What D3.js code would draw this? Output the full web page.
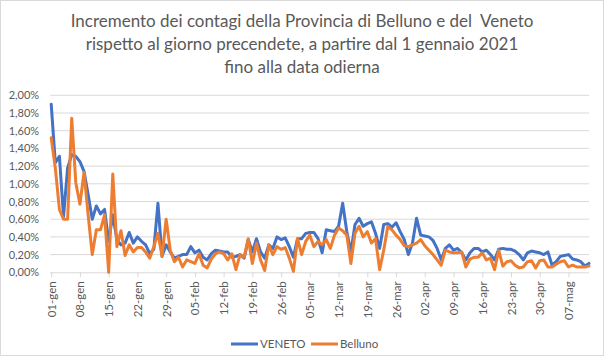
<!DOCTYPE html>
<html><head><meta charset="utf-8">
<script src="https://cdn.jsdelivr.net/npm/d3@7"></script>
<style>
html,body{margin:0;padding:0;background:#fff;}
svg{display:block;}
</style>
</head><body>
<svg id="chart" width="604" height="356"></svg>
<script>
// ---- DATA ----
const titleLines = [
  "Incremento dei contagi della Provincia di Belluno e del  Veneto",
  "rispetto al giorno precendete, a partire dal 1 gennaio 2021",
  "fino alla data odierna"
];
const seriesNames = ["VENETO", "Belluno"];
const startDate = new Date(2021, 0, 1);
const endDate = new Date(2021, 4, 12);
// daily increment, percent
const veneto = [
  1.90,1.24,1.31,0.63,1.18,1.33,1.31,1.25,1.14,0.88,
  0.60,0.75,0.66,0.71,0.35,0.65,0.37,0.31,0.33,0.45,
  0.33,0.40,0.35,0.31,0.21,0.26,0.78,0.18,0.31,0.23,
  0.16,0.18,0.20,0.20,0.29,0.22,0.25,0.17,0.14,0.21,
  0.25,0.24,0.23,0.23,0.17,0.18,0.20,0.16,0.37,0.23,
  0.38,0.23,0.16,0.31,0.27,0.40,0.37,0.39,0.29,0.17,
  0.38,0.38,0.44,0.45,0.45,0.38,0.22,0.48,0.47,0.46,
  0.52,0.78,0.46,0.23,0.54,0.61,0.52,0.55,0.57,0.44,
  0.27,0.54,0.55,0.51,0.56,0.46,0.37,0.20,0.33,0.61,
  0.42,0.41,0.40,0.36,0.27,0.14,0.27,0.31,0.25,0.27,
  0.22,0.14,0.22,0.27,0.27,0.23,0.25,0.20,0.14,0.26,
  0.27,0.26,0.26,0.24,0.20,0.14,0.22,0.24,0.23,0.22,
  0.20,0.23,0.08,0.12,0.18,0.19,0.20,0.15,0.14,0.12,
  0.07,0.10
];
const belluno = [
  1.52,1.18,0.71,0.60,0.60,1.74,1.01,0.77,1.13,0.65,
  0.20,0.48,0.48,0.65,0.00,1.11,0.29,0.47,0.19,0.31,
  0.23,0.28,0.28,0.23,0.16,0.29,0.44,0.18,0.60,0.25,
  0.12,0.17,0.06,0.14,0.12,0.10,0.21,0.08,0.05,0.15,
  0.21,0.23,0.21,0.14,0.21,0.03,0.20,0.17,0.38,0.10,
  0.33,0.14,0.02,0.31,0.20,0.29,0.26,0.28,0.16,0.01,
  0.38,0.20,0.35,0.42,0.29,0.35,0.31,0.37,0.27,0.42,
  0.50,0.47,0.42,0.10,0.44,0.52,0.40,0.46,0.33,0.38,
  0.03,0.25,0.52,0.48,0.42,0.37,0.30,0.29,0.31,0.33,
  0.37,0.30,0.25,0.20,0.14,0.08,0.25,0.23,0.22,0.22,
  0.23,0.06,0.15,0.17,0.17,0.22,0.14,0.16,0.03,0.25,
  0.07,0.12,0.13,0.08,0.05,0.06,0.12,0.13,0.05,0.13,
  0.14,0.06,0.06,0.09,0.12,0.13,0.06,0.08,0.06,0.06,
  0.06,0.07
];
const xTickLabels = ["01-gen","08-gen","15-gen","22-gen","29-gen","05-feb","12-feb","19-feb","26-feb",
  "05-mar","12-mar","19-mar","26-mar","02-apr","09-apr","16-apr","23-apr","30-apr","07-mag"];
const yTicks = [0,0.2,0.4,0.6,0.8,1.0,1.2,1.4,1.6,1.8,2.0];
const colors = ["#4472C4", "#ED7D31"];

// ---- CHART ----
const W = 604, H = 356;
const svg = d3.select("#chart");
const font = "Lato, 'Liberation Sans', sans-serif";
const txt = "#595959";

svg.append("rect").attr("x",0.5).attr("y",0.5).attr("width",W-1).attr("height",H-1)
  .attr("fill","#fff").attr("stroke","#d9d9d9");

const plot = {left: 51.2, right: 589, top: 95.3, bottom: 272.3};
const dates = d3.timeDay.range(startDate, d3.timeDay.offset(endDate, 1));
const x = d3.scaleTime().domain([startDate, endDate]).range([plot.left, plot.right]);
const y = d3.scaleLinear().domain([0, 2]).range([plot.bottom, plot.top]);

const loc = d3.formatLocale({decimal: ",", thousands: ".", grouping: [3], currency: ["€", ""]});
const fmt = v => loc.format(".2f")(v) + "%";

// title
const title = svg.append("g");
const titleY = [26.5, 50, 73];
titleLines.forEach((t, i) => {
  title.append("text").attr("x", 302).attr("y", titleY[i]).attr("text-anchor","middle")
    .attr("font-family", font).attr("font-size", 19).attr("fill", txt)
    .style("white-space", "pre").attr("xml:space", "preserve").text(t);
});
// fit title size so first line ~463px wide
const l0 = title.select("text").node().getComputedTextLength();
const tSize = 19 * 463 / l0;
title.selectAll("text").attr("font-size", tSize);

// gridlines
svg.append("g").selectAll("line").data(yTicks.slice(1)).join("line")
  .attr("x1", plot.left - 1).attr("x2", plot.right).attr("y1", d => y(d)).attr("y2", d => y(d))
  .attr("stroke", "#d9d9d9").attr("stroke-width", 1);

// y axis
const yAxis = svg.append("g").attr("transform", `translate(${plot.left - 12},0)`)
  .call(d3.axisLeft(y).tickValues(yTicks).tickFormat(fmt).tickSize(0).tickPadding(0));
yAxis.select(".domain").remove();
yAxis.selectAll("text").attr("font-family", font).attr("font-size", 11).attr("fill", txt);

// x axis
const tickDates = d3.timeDay.range(startDate, d3.timeDay.offset(endDate, 1), 7);
const xAxis = svg.append("g").attr("transform", `translate(0,${plot.bottom})`)
  .call(d3.axisBottom(x).tickValues(tickDates).tickFormat((d, i) => xTickLabels[i]).tickSize(5));
xAxis.select(".domain").attr("stroke", "#d9d9d9").attr("d", `M${plot.left - 1},0.5H${plot.right}`);
xAxis.selectAll(".tick line").attr("stroke", "#d9d9d9");
xAxis.selectAll("text")
  .attr("font-family", font).attr("font-size", 11.5).attr("fill", txt)
  .attr("transform", "rotate(-90)").attr("text-anchor", "end")
  .attr("x", -9).attr("y", 0).attr("dy", "0.35em");

// lines
const series = [veneto, belluno];
const line = d3.line().x((d, i) => x(dates[i])).y(d => y(d));
series.forEach((s, k) => {
  svg.append("path").datum(s).attr("d", line).attr("fill", "none")
    .attr("stroke", colors[k]).attr("stroke-width", 3)
    .attr("stroke-linejoin", "round").attr("stroke-linecap", "round");
});

// legend
const legY = 344;
const legX = [231, 311];
seriesNames.forEach((n, k) => {
  svg.append("line").attr("x1", legX[k]).attr("x2", legX[k] + 27).attr("y1", legY).attr("y2", legY)
    .attr("stroke", colors[k]).attr("stroke-width", 3);
  svg.append("text").attr("x", legX[k] + 29).attr("y", legY).attr("dy", "0.35em")
    .attr("font-family", font).attr("font-size", 11.5).attr("fill", txt).text(n);
});
</script>
</body></html>
